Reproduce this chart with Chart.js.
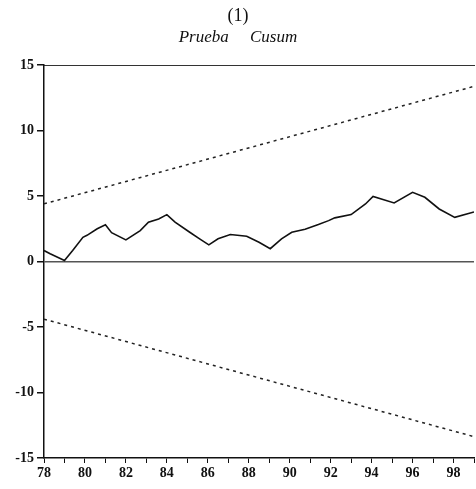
<!DOCTYPE html>
<html>
<head>
<meta charset="utf-8">
<script src="https://cdn.jsdelivr.net/npm/chart.js@4/dist/chart.umd.min.js"></script>
<style>
  html, body { margin: 0; padding: 0; background: #fff; }
  #wrap { width: 476px; height: 489px; }
</style>
</head>
<body>
<div id="wrap"><canvas id="cusumChart"></canvas></div>
<script>
// serie cusum (años, valores)
const anios = [78.0, 78.3, 79.0, 79.4, 79.9, 80.1, 80.6, 81.0, 81.3, 82.0, 82.7, 83.1, 83.6, 84.0, 84.4,
  85.1, 85.6, 86.05, 86.5, 87.1, 87.9, 88.5, 89.05, 89.6, 90.1, 90.75, 91.4, 91.9, 92.2, 93.0,
  93.7, 94.07, 95.1, 96.0, 96.6, 97.3, 98.06, 99.0];
const cusum = [0.84, 0.59, 0.08, 0.84, 1.85, 2.0, 2.5, 2.8, 2.2, 1.65, 2.36, 3.0, 3.25, 3.58, 3.0,
  2.25, 1.73, 1.27, 1.73, 2.06, 1.93, 1.47, 0.98, 1.73, 2.23, 2.46, 2.82, 3.12, 3.33, 3.58,
  4.39, 4.97, 4.47, 5.28, 4.9, 4.01, 3.37, 3.78];

// bandas al 5%
const aniosBanda = [78, 99];
const bandaSup = [4.4, 13.37];
const bandaInf = [-4.4, -13.37];

const ejeX = [78, 99];
const ejeY = [-15, 15];
const etiquetasX = [78, 80, 82, 84, 86, 88, 90, 92, 94, 96, 98];

const puntos = (xs, ys) => xs.map((x, i) => ({ x: x, y: ys[i] }));

const fuenteEjes = { family: 'Liberation Serif', size: 14, weight: 'bold' };

new Chart(document.getElementById('cusumChart'), {
  type: 'line',
  data: {
    datasets: [{
      label: 'Cusum',
      data: puntos(anios, cusum),
      borderColor: '#111',
      borderWidth: 1.6,
      pointRadius: 0,
      tension: 0
    }, {
      label: 'Banda superior',
      data: puntos(aniosBanda, bandaSup),
      borderColor: '#222',
      borderWidth: 1.5,
      borderDash: [3, 4],
      pointRadius: 0
    }, {
      label: 'Banda inferior',
      data: puntos(aniosBanda, bandaInf),
      borderColor: '#222',
      borderWidth: 1.5,
      borderDash: [3, 4],
      pointRadius: 0
    }]
  },
  options: {
    responsive: true,
    maintainAspectRatio: false,
    animation: false,
    layout: { padding: { left: 0, right: 0, top: 0, bottom: 0 } },
    plugins: {
      legend: { display: false },
      tooltip: { enabled: false },
      title: {
        display: true,
        text: '(1)',
        color: '#111',
        font: { family: 'Liberation Serif', size: 18, weight: 'normal' },
        padding: { top: 5, bottom: 0 }
      },
      subtitle: {
        display: true,
        text: 'Prueba     Cusum',
        color: '#111',
        font: { family: 'Liberation Serif', size: 17, style: 'italic' },
        padding: { top: 1, bottom: 17 }
      }
    },
    scales: {
      x: {
        type: 'linear',
        min: ejeX[0],
        max: ejeX[1],
        afterFit: s => { s.height = 31; },
        border: { display: true, color: '#111', width: 1.5 },
        grid: { drawOnChartArea: false, tickLength: 5, tickColor: '#111' },
        ticks: {
          stepSize: 1,
          autoSkip: false,
          maxRotation: 0,
          color: '#111',
          font: fuenteEjes,
          padding: 2,
          callback: v => etiquetasX.includes(v) ? String(v) : ''
        }
      },
      xTop: {
        type: 'linear',
        position: 'top',
        min: ejeX[0],
        max: ejeX[1],
        afterFit: s => { s.height = 0; },
        border: { display: true, color: '#333', width: 1 },
        grid: { display: false },
        ticks: { display: false }
      },
      y: {
        min: ejeY[0],
        max: ejeY[1],
        afterFit: s => { s.width = 44; },
        border: { display: true, color: '#111', width: 1.5 },
        grid: {
          drawOnChartArea: true,
          color: c => c.tick && c.tick.value === 0 ? '#555' : 'rgba(0,0,0,0)',
          lineWidth: 1.5,
          tickLength: 7,
          tickColor: '#111'
        },
        ticks: {
          stepSize: 5,
          color: '#111',
          font: fuenteEjes,
          padding: 3
        }
      }
    }
  }
});
</script>
</body>
</html>
